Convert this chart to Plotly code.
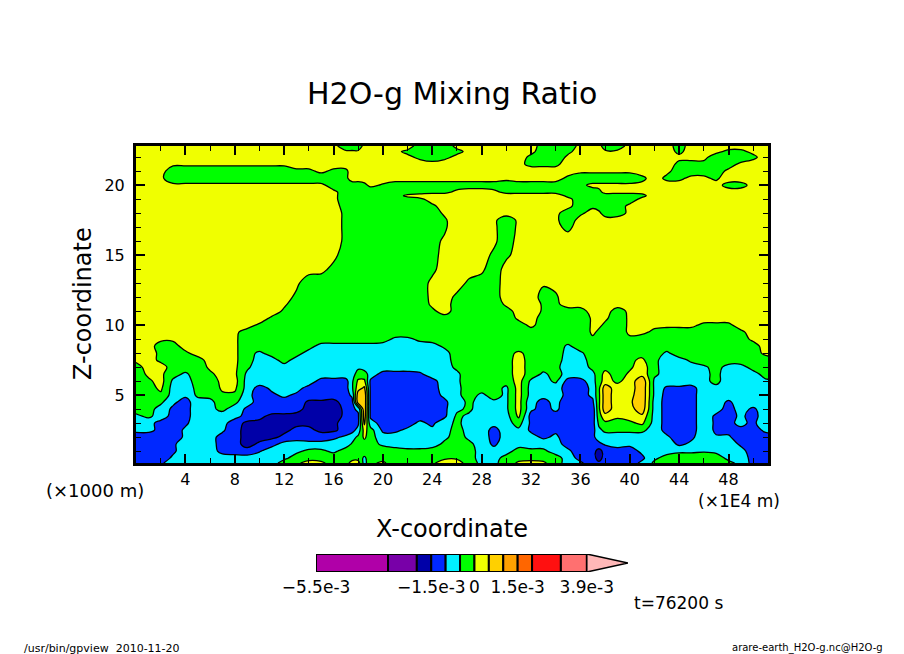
import plotly.graph_objects as go

# H2O-g mixing ratio, in units of 1e-4
x_coord = [0, 1, 2, 3, 4, 5, 6, 7, 8, 9,
           10, 11, 12, 13, 14, 15, 16, 17,
           17.5, 18, 18.5,
           19, 20, 21, 22, 23, 24, 25, 26, 27, 28, 29,
           30, 31, 32, 33, 34, 35, 36, 37,
           37.5,
           38, 39, 40, 41, 42, 43, 44, 45, 46, 47, 48, 49, 50, 51, 52]
z_coord = [0.15, 0.5, 1, 1.5, 2, 2.5, 3, 3.5, 4, 4.5, 5, 5.5, 6, 6.5, 7, 7.5, 8, 8.5, 9, 9.5,
           10, 10.5, 11, 11.5, 12, 13, 14, 15, 16, 17, 17.5, 18, 18.5, 19, 19.25, 19.5, 20, 20.5,
           21, 21.5, 22, 22.4, 22.8]
h2o_rows = [
 [-12,-12,-11,-7,-7,-7,-7,-7,-7,-7, -7,-7,-3,-1,2,1,-2,-2, 2,2,-7, -1,1,-3,-2,-2,-1,3,3,-3,-6,-6, -3,1,2,1,-3,-7,-9,-13, -14, -13,-12,-12,-9,-4,-2,-2,-2,-2,-2,-4,-6,-12,-12,-12],
 [-13,-13,-13,-9,-7,-7,-7,-7,-7,-7, -7,-7,-6,-3,-2,-2,-2,-2, -2,-2,-6, -2,-2,-2,-2,-2,-2,-1,-1,-3,-7,-7, -3,-2,-2,-2,-3,-7,-12,-13, -17, -13,-13,-13,-11,-6,-3,-2,-2,-2,-3,-6,-7,-12,-12,-12],
 [-12,-12,-12,-11,-7,-7,-7,-12,-13,-14, -10.5,-7,-7,-6,-4,-4,-6,-3, -2,-2,-2, -2,-2,-3,-4,-4,-3,-3,-2,-3,-7,-8, -7,-3,-4,-4,-7,-9,-13,-13, -17, -13,-11,-12,-9,-7,-7,-6,-6,-5.5,-6,-7,-8,-13,-13,-13],
 [-12,-12,-12,-11,-7,-7,-7,-13,-14,-16, -14.5,-12,-8,-7,-8,-8,-8,-7, -4.5,-2,-2, -3,-6,-7,-7,-7,-7,-4,-2,-4,-7,-11, -7,-7,-7,-7,-8,-12,-13,-13, -11, -9.5,-9,-9,-7,-7,-7,-11,-9,-7,-7,-7,-11,-13,-13,-13],
 [-12,-12,-12,-13,-9,-7,-8,-12,-14,-16, -16,-16,-14,-13,-13,-13,-11,-9, -7,-4,1, -3,-8,-8,-7,-7,-7,-6,-3,-6,-7,-12, -8,-7,-8,-11,-9,-13,-13,-11, -8, -7,-7,-7,-7,-7,-9,-13,-11,-7,-9.5,-9.5,-12,-13,-12,-12],
 [-9,-9,-11,-13,-9,-7,-7,-9,-14,-16, -16,-16,-16,-14,-14,-16,-16,-13, -12,-8,2, -3,-11,-11,-9,-7,-9,-7,-3,-7,-7,-12, -7,-6,-11,-12,-11,-13,-13,-12, -6, -4,-4,-4,-4,-7,-12,-13,-12,-7,-11,-11,-11,-12,-9,-8],
 [-7,-8,-12,-13,-11,-7,-7,-8,-13,-16, -16,-16,-16,-16,-16,-16,-16,-13, -11,-11,6, -8,-12,-12,-12,-9,-11,-7,-4,-7,-7,-8, -7,-3,-11,-12,-12,-13,-13,-12, -4, -1,-2,-1,1,-7,-12,-12,-12,-7,-11,-11,-9,-11,-7,-7],
 [-6,-4,-7,-12,-12,-7,-7,-7,-8,-12, -14,-16,-16,-16,-16,-16,-17,-14, -11,-11,8, -11,-12,-12,-12,-12,-12,-11,-4,-6,-7,-7, -7,1,-12,-12,-12,-13,-13,-13, -2, 3,1,2,4,-7,-12,-12,-12,-7,-11,-12,-9,-12,-7,-7],
 [-3,-3,-7,-11,-12,-7,-6,-4,-7,-11, -13,-13,-13,-14,-16,-16,-17,-14, -11,-9,9, -11,-12,-12,-12,-12,-12,-11,-6,-4,-8,-7, -6,2,-9,-12,-9,-13,-13,-13, -1, 8,2,3,8,-7,-12,-12,-12,-7,-8,-12,-8,-11,-7,-7],
 [-2,-2,-4,-9,-12,-7,-6,-3,-4,-8, -12,-12,-12,-12,-16,-16,-17,-12, -12,8,9, -11,-12,-12,-12,-12,-12,-11,-7,-4,-7,-6, -6,2,-9,-11,-9,-12,-13,-11, -1, 8,2,4,9,-7,-12,-12,-12,-7,-7,-11,-7,-7,-7,-7],
 [-2,-2,-1,-7,-9,-4,-4,-1,-1,-8, -13,-11,-9,-11,-12,-12,-12,-12, -9,8,9, -11,-12,-12,-12,-12,-12,-9,-6,-3,-6,-3, -6,2,-7,-9,-7,-12,-12,-9, -1, 8,2,3,9,-6,-12,-12,-12,-7,-7,-7,-7,-7,-7,-7],
 [-2,-2,1,-7,-7,-4,-4,1,1,-7, -12,-9,-8,-8,-12,-12,-12,-12, -6,3,6, -11,-12,-12,-12,-12,-12,-8,-6,-3,-3,-3, -6,2,-7,-7,-8,-12,-12,-9, -1, 8,2,2,9,-6,-11,-11,-12,-7,-6,-6,-6,-6,-6,-6],
 [-2,-1,2,-6,-7,-3,-2,1,2,-7, -7,-7,-7,-7,-7,-12,-12,-12, -6,1,1, -11,-12,-12,-12,-12,-12,-7,-6,-2,-2,-3, -3,2,-6,-7,-4,-12,-12,-7, -2, 2,-1,2,9,-6,-7,-7,-7,-6,-4,-7,-7,-7,-6,-6],
 [-3,1,1,-3,-6,-2,-1,2,1,-6, -7,-7,-7,-7,-7,-7,-7,-7, -7,-3,-3, -7,-12,-12,-12,-11,-7,-7,-6,-2,-2,-2, -2,2,-2,-6,-3,-7,-7,-6, -3, 2,-3,1,3,-4,-7,-7,-7,-6,-4,-7,-7,-7,-3,-3],
 [-2,2,2,-2,-2,-3,1,2,1,-4, -8,-7,-7,-7,-7,-7,-7,-7, -7,-6,-7, -7,-7,-7,-7,-7,-7,-7,-4,-2,-2,-2, -2,2,-2,-3,-4,-7,-7,-4, -2, -2,-2,-1,3,-4,-7,-7,-7,-6,-3,-7,-7,-3,-2,-2],
 [1,2,-1,-2,-2,-2,2,3,1,-3, -7,-7,-3,-7,-7,-7,-7,-7, -7,-7,-7, -7,-7,-7,-7,-7,-7,-7,-3,-2,-2,-2, -2,2,-2,-2,-3,-7,-7,-3, -2, -2,-2,-1,1,-4,-7,-7,-4,-2,-2,-2,-2,-2,-2,-2],
 [2,2,-1,-2,-1,2,2,3,1,-3, -6,-3,-2,-3,-7,-7,-7,-7, -7,-7,-7, -7,-7,-7,-7,-7,-7,-7,-2,-2,-2,-2, -2,1,-2,-2,-2,-7,-6,-2, -2, -2,-2,-2,-2,-2,-6,-2,-2,-2,-2,-2,-2,-2,1,2],
 [2,2,-2,-2,2,2,2,2,1,-3, -2,-2,-2,-2,-3,-7,-7,-7, -7,-7,-7, -7,-7,-7,-7,-7,-7,-4,-2,-2,-2,-2, -2,-3,-2,-2,-2,-6,-2,-2, -2, -2,-2,-2,-2,-2,-2,-2,-2,-2,-2,-2,-2,-2,2,2],
 [2,2,1,1,2,2,2,2,1,-3, -2,-2,-2,-2,-2,-2,-2,-2, -2,-2,-2, -2,-3,-6,-6,-4,-3,-2,-2,-2,-2,-2, -2,-2,-2,-2,-2,-2,-2,-1, -2, -2,-2,-1,-2,-2,-2,-2,-2,-2,-2,-2,-2,1,2,2],
 [2,2,2,2,2,2,2,2,1,-2, -2,-2,-2,-2,-2,-2,-2,-2, -2,-2,-2, -2,-2,-2,-2,-2,-2,-2,-2,-2,-2,-2, -2,-2,-2,-2,-2,-2,-4,1, -1, -2,-3,1,1,-1,-2,-2,-2,-2,-2,-2,-1,2,2,2],
 [2,2,2,2,2,2,2,2,2,2, -1,-2,-2,-2,-2,-2,-2,-2, -2,-2,-2, -2,-2,-2,-2,-2,-2,-2,-2,-2,-2,-2, -2,-2,1,-2,-2,-2,-4,1, 1, -1,-3,1,1,1,1,1,1,-1,-1,-1,2,2,2,2],
 [2,2,2,2,2,2,2,2,2,2, 3,-1,-2,-2,-2,-2,-2,-2, -2,-2,-2, -2,-2,-2,-2,-2,-2,-2,-2,-2,-2,-2, -3,1,2,-2,-2,-2,-4,1, 1, 1,-3,1,2,2,2,2,2,2,2,2,2,2,2,2],
 [2,2,2,2,2,2,2,2,2,2, 2,3,-1,-2,-2,-2,-2,-2, -2,-2,-2, -2,-2,-2,-2,-2,-1,2,-2,-2,-2,-2, -2,2,4,-1,-2,-2,-2,2, 2, 2,-2,1,2,2,2,2,2,2,2,2,2,2,2,2],
 [2,2,2,2,2,2,2,2,2,2, 2,2,1,-3,-2,-2,-2,-2, -2,-2,-2, -2,-2,-2,-2,-3,1,2,-2,-2,-2,-3, 1,2,4,-1,-1,2,2,2, 2, 2,2,2,2,2,2,2,2,2,2,2,2,2,2,2],
 [2,2,2,2,2,2,2,2,2,2, 2,2,2,-1,-2,-2,-2,-2, -2,-2,-2, -2,-2,-2,-2,-2,1,2,-1,-2,-2,-2, 2,2,4,-3,-1,4,2,2, 2, 2,2,2,2,2,2,2,2,2,2,2,2,2,2,2],
 [2,2,2,2,2,2,2,2,2,2, 2,2,2,1,-3,-2,-2,-2, -2,-2,-2, -2,-2,-2,-2,-2,1,2,2,-1,-2,-2, 2,2,2,1,2,2,2,2, 2, 2,2,2,2,2,2,2,2,2,2,2,2,2,2,2],
 [2,2,2,2,2,2,2,2,2,2, 2,2,2,2,2,1,-1,-2, -2,-2,-2, -2,-2,-2,-2,-2,-1,2,2,2,1,-3, 2,2,2,2,2,2,2,2, 2, 2,2,2,2,2,2,2,2,2,2,2,2,2,2,2],
 [2,2,2,2,2,2,2,2,2,2, 2,2,2,2,2,2,1,-2, -2,-2,-2, -2,-2,-2,-2,-2,-2,2,2,2,2,-1, -1,2,2,2,2,2,2,2, 2, 2,2,2,2,2,2,2,2,2,2,2,2,2,2,2],
 [2,2,2,2,2,2,2,2,2,2, 2,2,2,2,2,2,2,-1, -2,-2,-2, -2,-2,-2,-2,-2,-2,1,2,2,2,1, -3,2,2,2,2,2,2,2, 2, 2,2,2,2,2,2,2,2,2,2,2,2,2,2,2],
 [2,2,2,2,2,2,2,2,2,2, 2,2,2,2,2,2,2,-1, -2,-2,-2, -2,-2,-2,-2,-2,-2,-1,4,2,2,1, -3,1,2,2,1,-1,2,2, 2, 2,2,2,2,2,2,2,2,2,2,2,2,2,2,2],
 [2,2,2,2,2,2,2,2,2,2, 2,2,2,2,2,2,2,-1, -2,-2,-2, -2,-2,-2,-2,-2,-2,-1,4,2,2,1, -3,1,2,2,1,-3,2,2, 2, 2,2,2,2,2,2,2,2,2,2,2,2,2,2,2],
 [2,2,2,2,2,2,2,2,2,2, 2,2,2,2,2,2,2,-1, -2,-2,-2, -2,-2,-2,-2,-2,-3,1,2,2,2,2, 2,2,2,2,1,-2,-1,2, 1, -2,-2,1,2,2,2,2,2,2,2,2,2,2,2,2],
 [2,2,2,2,2,2,2,2,2,2, 2,2,2,2,2,2,2,-2, -2,-2,-2, -2,-2,-2,-2,-2,-1,2,2,2,2,2, 2,2,2,2,2,1,-2,-1, -2, -2,-2,1,2,2,2,2,2,2,2,2,2,2,2,2],
 [2,2,2,2,2,2,2,2,2,2, 2,2,2,2,2,2,1,-2, -2,-2,-2, -2,-2,-2,-2,-1,2,2,2,2,2,2, 2,2,2,2,2,1,-2,-2, -2, -2,-2,-2,1,2,2,2,2,2,2,2,2,2,2,2],
 [2,2,2,2,2,2,2,2,2,2, 2,2,2,2,2,2,1,-2, -2,-2,-2, -2,-2,-2,1,2,2,2,2,2,2,2, 2,2,2,2,2,-1,-2,-2, -2, -2,-2,-2,-1,2,2,2,2,2,2,2,2,2,2,2],
 [2,2,2,2,2,2,2,2,2,2, 2,2,2,2,2,2,1,-2, -2,-2,-2, -3,-2,-2,-2,-2,-1,-1,1,2,2,1, -1,-1,-1,-1,-1,-2,-2,-2, -1, 1,1,1,1,2,2,2,2,2,2,3,3,2,2,2],
 [2,2,2,1,1,1,1,1,1,1, 1,1,1,1,1,1,-2,-2, -2,-2,-1, 1,-0.5,-2,-2,-2,-2,-2,-2,-2,-2,-2, -2,-2,-2,-2,-2,-2,-1,1, 1, 1,1,1,1,2,2,2,2,2,2,-2,-2,2,2,2],
 [2,2,1,-3,-3,-3,-3,-3,-3,-3, -3,-3,-3,-3,-3,-3,-3,-1, 2,2,2, 2,2,2,2,2,2,2,2,2,2,2, 1,2,2,2,2,-1,-3,-3, -3, -3,-3,-3,-1,2,-1,-1,1,1,-1,3,3,2,2,2],
 [2,2,2,-3,-3,-3,-3,-3,-3,-3, -3,-3,-3,-1,-1,1,-1,-1, 2,2,2, 2,2,2,2,2,2,2,2,2,2,2, 2,2,2,2,2,2,1,1, 1, 1,1,1,2,2,1,-2,-2,-2,-2,1,2,2,2,2],
 [2,2,2,1,1,1,1,1,1,1, 1,1,1,2,2,2,2,2, 2,2,2, 2,2,2,2,2,2,2,2,2,2,2, 2,1,-1,-1,-1,2,2,2, 2, 2,2,2,2,2,2,-1,-2,-1,-2,-2,1,2,2,2],
 [2,2,2,2,2,2,2,2,2,2, 2,2,2,2,2,2,2,2, 2,2,2, 2,2,2,1,-1,-3,-1,1,2,2,2, 2,2,-1,-3,-3,1,2,2, 2, 2,2,2,2,2,2,1,2,1,-2,-3,-3,-1,2,2],
 [2,2,2,2,2,2,2,2,2,2, 2,2,2,2,2,2,2,1, 1,1,2, 2,2,1,-1,-2,-2,-2,-1,1,2,2, 2,2,1,-2,-2,-1,2,2, 2, 1,1,2,2,2,2,-1,2,2,1,-1,-1,1,2,2],
 [2,2,2,2,2,2,2,2,2,2, 2,2,2,2,2,2,2,-4, -4,-4,2, 2,2,2,2,-2,-2,-2,1,2,2,2, 2,2,2,-2,-2,-2,1,2, 2, -3,-3,2,2,2,2,-2,2,2,2,2,2,2,2,2],
]

# contour classes, same units as h2o_rows
level_start = -15
level_end = 5
level_size = 5
class_colors = ["#0000A8", "#0028FF", "#00F0FF", "#00FF00", "#F0FF00", "#FFD000"]

# colour bar, in units of 1e-3
bar_bounds = [-5.5, -3, -2, -1.5, -1, -0.5, 0, 0.5, 1, 1.5, 2, 3, 3.9]
bar_colors = ["#B000A8", "#7800A8", "#0000A8", "#0028FF", "#00F0FF", "#00FF00",
              "#F0FF00", "#FFD000", "#FFA000", "#FF6600", "#FF1010", "#FF7070"]
bar_over_color = "#FFB8B8"
bar_tip = 5.33
bar_ticks = [-5.5, -1.5, 0, 1.5, 3.9]
bar_labels = ["−5.5e-3", "−1.5e-3", "0", "1.5e-3", "3.9e-3"]

x_ticks = [4, 8, 12, 16, 20, 24, 28, 32, 36, 40, 44, 48]
z_ticks = [5, 10, 15, 20]

W, H = 904, 654
FONT = "DejaVu Sans"


def px(x):
    return x / W


def py(y):
    return 1 - y / H


def label(x, y, text, size, **kw):
    return dict(x=px(x), y=py(y), xref="paper", yref="paper", text=text, showarrow=False,
                xanchor="center", yanchor="middle",
                font=dict(family=FONT, size=size, color="black"), **kw)


stops = []
for i, c in enumerate(class_colors):
    stops.append([i / len(class_colors), c])
    stops.append([(i + 1) / len(class_colors), c])

fig = go.Figure()
fig.add_trace(go.Contour(x=x_coord, y=z_coord, z=h2o_rows, autocontour=False,
                         contours=dict(start=level_start, end=level_end, size=level_size,
                                       coloring="fill", showlines=True),
                         colorscale=stops, showscale=False, hoverinfo="skip",
                         line=dict(color="black", width=1.3, smoothing=1)))

for lo, hi, c in zip(bar_bounds[:-1], bar_bounds[1:], bar_colors):
    fig.add_trace(go.Bar(x=[hi - lo], base=[lo], y=[0.5], width=[1], orientation="h",
                         marker=dict(color=c, line=dict(color="black", width=2)),
                         xaxis="x2", yaxis="y2", hoverinfo="skip"))
fig.add_trace(go.Scatter(x=[bar_bounds[-1], bar_tip, bar_bounds[-1], bar_bounds[-1]], y=[0, 0.5, 1, 0],
                         mode="lines", fill="toself", fillcolor=bar_over_color,
                         line=dict(color="black", width=1.5), xaxis="x2", yaxis="y2", hoverinfo="skip"))

axis_common = dict(showgrid=False, zeroline=False, showline=True, linecolor="black", linewidth=3,
                   mirror="allticks", ticks="inside", ticklen=9, tickwidth=2, tickcolor="black",
                   tickfont=dict(family=FONT, size=16, color="black"))
fig.update_layout(
    width=W, height=H, margin=dict(l=0, r=0, t=0, b=0, autoexpand=False), autosize=False,
    paper_bgcolor="white", plot_bgcolor="white", showlegend=False, barmode="overlay",
    xaxis=dict(domain=[px(136), px(768)], range=[0, 51.2], tickmode="array", tickvals=x_ticks,
               minor=dict(tick0=0, dtick=2, ticks="inside", ticklen=5, tickwidth=1, tickcolor="black"),
               **axis_common),
    yaxis=dict(domain=[py(463), py(146)], range=[0.15, 22.8], tickmode="array", tickvals=z_ticks,
               ticklabelstandoff=5,
               minor=dict(tick0=0, dtick=1, ticks="inside", ticklen=5, tickwidth=1, tickcolor="black"),
               **axis_common),
    xaxis2=dict(domain=[px(316), px(628)], range=[bar_bounds[0], bar_tip], anchor="y2",
                tickmode="array", tickvals=bar_ticks, ticktext=bar_labels, ticks="", showgrid=False,
                zeroline=False, showline=False, ticklabelstandoff=3,
                tickfont=dict(family=FONT, size=17, color="black")),
    yaxis2=dict(domain=[py(572), py(554)], range=[0, 1], anchor="x2", visible=False),
    annotations=[
        label(452, 93, "H2O-g Mixing Ratio", 30),
        label(452, 529, "X-coordinate", 24),
        label(83, 304, "Z-coordinate", 24, textangle=-90),
        label(95, 490, "(×1000 m)", 18),
        label(739, 501, "(×1E4 m)", 17),
        label(678, 603, "t=76200 s", 17),
        label(102, 648, "/usr/bin/gpview  2010-11-20", 11),
        label(807, 648, "arare-earth_H2O-g.nc@H2O-g", 10),
    ],
)

fig.write_html("out.html", post_script="document.body.style.margin='0';",
               config={"displayModeBar": False})
